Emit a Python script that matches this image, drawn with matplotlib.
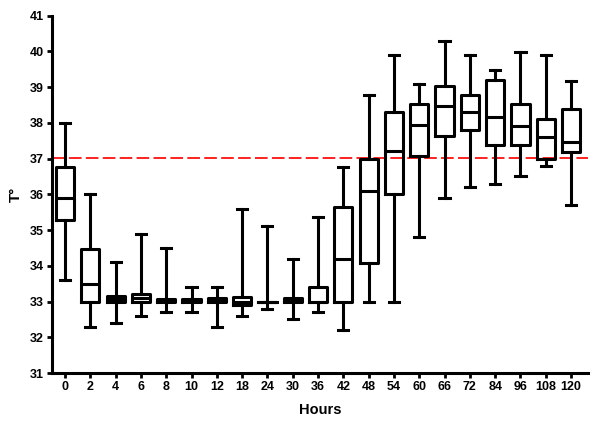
import matplotlib
matplotlib.use("Agg")
import matplotlib.pyplot as plt

hours = ["0", "2", "4", "6", "8", "10", "12", "18", "24", "30", "36", "42",
         "48", "54", "60", "66", "72", "84", "96", "108", "120"]
whislo = [33.6, 32.3, 32.4, 32.6, 32.7, 32.7, 32.3, 32.6, 32.8, 32.5, 32.7, 32.2,
          33.0, 33.0, 34.8, 35.9, 36.2, 36.3, 36.5, 36.8, 35.7]
q1 = [35.28, 33.0, 33.0, 33.0, 33.0, 33.0, 32.98, 32.9, 33.0, 32.98, 33.0, 33.0,
      34.08, 36.0, 37.08, 37.64, 37.79, 37.38, 37.38, 36.98, 37.18]
med = [35.9, 33.5, 33.07, 33.1, 33.03, 33.03, 33.06, 33.0, 33.0, 33.06, 33.0, 34.18,
       36.08, 37.2, 37.95, 38.48, 38.3, 38.16, 37.9, 37.6, 37.47]
q3 = [36.76, 34.46, 33.16, 33.21, 33.07, 33.07, 33.11, 33.12, 33.0, 33.11, 33.42, 35.64,
      36.99, 38.3, 38.53, 39.03, 38.78, 39.19, 38.53, 38.1, 38.39]
whishi = [38.0, 36.0, 34.1, 34.9, 34.5, 33.4, 33.4, 35.58, 35.1, 34.2, 35.37, 36.77,
          38.78, 39.9, 39.1, 40.28, 39.9, 39.48, 39.98, 39.9, 39.18]
threshold = 37.03
yticks = list(range(31, 42))

plt.rcParams['font.family'] = ['Liberation Sans', 'DejaVu Sans']

fig = plt.figure(figsize=(6.0, 4.23), dpi=100)
ax = fig.add_axes([0.0867, 0.1182, 0.8933, 0.8448])

stats = []
for i, h in enumerate(hours):
    stats.append(dict(label=h, whislo=whislo[i], q1=q1[i], med=med[i],
                      q3=q3[i], whishi=whishi[i], fliers=[]))

lw = 2.2
ax.bxp(stats, positions=list(range(len(hours))), widths=0.72, capwidths=0.4,
       showfliers=False, patch_artist=False,
       boxprops=dict(color='black', linewidth=lw),
       whiskerprops=dict(color='black', linewidth=lw),
       capprops=dict(color='black', linewidth=lw),
       medianprops=dict(color='black', linewidth=lw))

ax.axhline(threshold, color='#ff2020', linewidth=1.4, dashes=(6.5, 2.2), zorder=1)

ax.set_xlim(-0.514, 20.67)
ax.set_ylim(31, 41)
ax.set_yticks(yticks)
ax.set_xticks(range(len(hours)))
ax.set_xticklabels(hours)

for s in ['top', 'right']:
    ax.spines[s].set_visible(False)
for s in ['left', 'bottom']:
    ax.spines[s].set_linewidth(2.2)

ax.tick_params(axis='both', direction='out', length=3.8, width=2.0, labelsize=9, pad=2)
for lab in ax.get_xticklabels() + ax.get_yticklabels():
    lab.set_fontweight('bold')

ax.set_xlabel("Hours", fontsize=10.5, fontweight='bold', labelpad=7)
ax.set_ylabel("T°", fontsize=11, fontweight='bold', labelpad=5)

fig.savefig("out.png", dpi=100)
